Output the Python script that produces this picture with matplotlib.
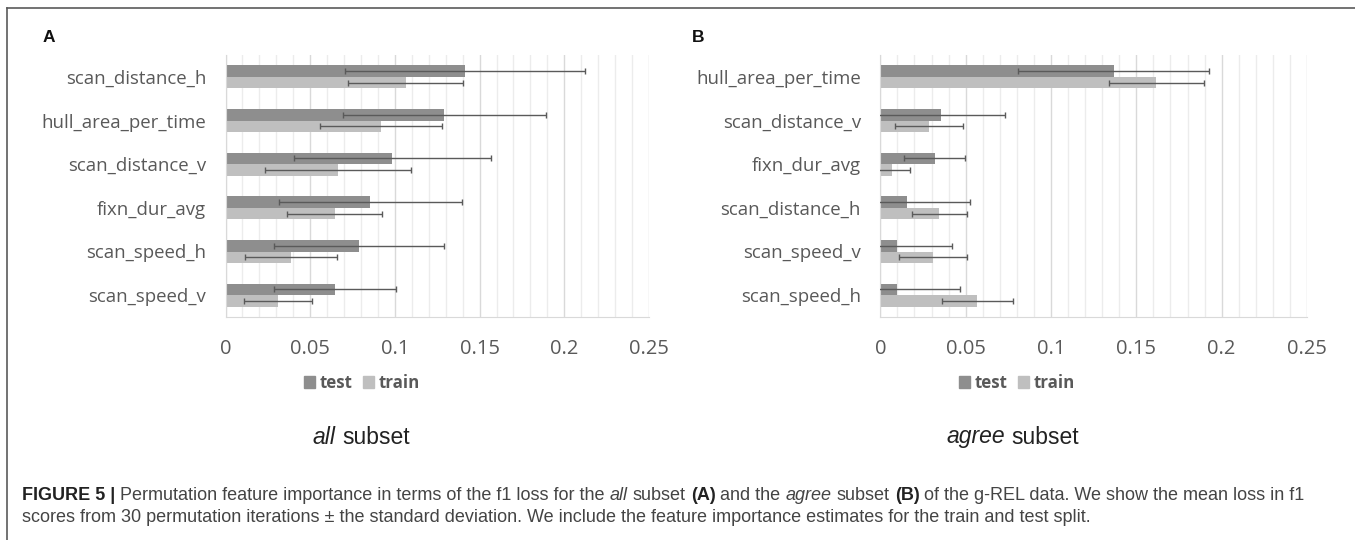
import matplotlib
matplotlib.use("Agg")
import matplotlib.pyplot as plt
from matplotlib.lines import Line2D
from matplotlib.patches import Patch
import numpy as np

# panel A: all subset
feat_a = ["scan_distance_h", "hull_area_per_time", "scan_distance_v",
          "fixn_dur_avg", "scan_speed_h", "scan_speed_v"]
test_a = [0.1415, 0.1292, 0.0985, 0.0855, 0.0788, 0.0645]
test_err_a = [0.071, 0.060, 0.058, 0.054, 0.050, 0.036]
train_a = [0.1064, 0.0916, 0.0665, 0.0645, 0.0386, 0.0312]
train_err_a = [0.034, 0.036, 0.043, 0.028, 0.027, 0.020]

# panel B: agree subset
feat_b = ["hull_area_per_time", "scan_distance_v", "fixn_dur_avg",
          "scan_distance_h", "scan_speed_v", "scan_speed_h"]
test_b = [0.1367, 0.0358, 0.0318, 0.0158, 0.0099, 0.0099]
test_err_b = [0.056, 0.037, 0.018, 0.037, 0.032, 0.037]
train_b = [0.1618, 0.0287, 0.0066, 0.0346, 0.0308, 0.0569]
train_err_b = [0.028, 0.020, 0.011, 0.016, 0.020, 0.021]

xticks = [0, 0.05, 0.1, 0.15, 0.2, 0.25]
xticklabels = ["0", "0.05", "0.1", "0.15", "0.2", "0.25"]

TEST_C = "#8e8e8e"
TRAIN_C = "#bfbfbf"
TXT_C = "#595959"
LABEL_FONT = "Open Sans"
W, H = 1355, 540

fig = plt.figure(figsize=(W / 100, H / 100), dpi=100)


def panel(rect, feats, test, test_err, train, train_err):
    ax = fig.add_axes(rect)
    y = np.arange(len(feats))
    h = 0.26
    ax.barh(y - h / 2, test, height=h, color=TEST_C, zorder=2)
    ax.barh(y + h / 2, train, height=h, color=TRAIN_C, zorder=2)
    ax.errorbar(test, y - h / 2, xerr=test_err, fmt="none", ecolor="#5a5a5a",
                elinewidth=1.0, capsize=2.5, capthick=1.0, zorder=3)
    ax.errorbar(train, y + h / 2, xerr=train_err, fmt="none", ecolor="#5a5a5a",
                elinewidth=1.0, capsize=2.5, capthick=1.0, zorder=3)
    ax.set_xlim(0, 0.25)
    ax.set_ylim(len(feats) - 0.5, -0.5)
    ax.set_yticks(y)
    ax.set_yticklabels(feats, fontfamily=LABEL_FONT, fontsize=13.4, color=TXT_C)
    ax.set_xticks(xticks)
    ax.set_xticklabels(xticklabels, fontfamily=LABEL_FONT, fontsize=14.5, color=TXT_C)
    ax.set_xticks(np.arange(0, 0.2501, 0.01), minor=True)
    ax.tick_params(axis="both", which="both", length=0)
    ax.tick_params(axis="x", pad=16)
    ax.tick_params(axis="y", pad=14)
    ax.grid(axis="x", which="minor", color="#ececec", lw=1.0, zorder=0)
    ax.grid(axis="x", which="major", color="#d9d9d9", lw=1.0, zorder=0)
    for s in ["top", "right"]:
        ax.spines[s].set_visible(False)
    ax.spines["left"].set_color("#d9d9d9")
    ax.spines["bottom"].set_color("#d9d9d9")
    return ax


bot = 1 - 317 / H
top = 1 - 55 / H
panel([225.5 / W, bot, (649 - 225.5) / W, top - bot], feat_a, test_a, test_err_a, train_a, train_err_a)
panel([880.3 / W, bot, (1307 - 880.3) / W, top - bot], feat_b, test_b, test_err_b, train_b, train_err_b)

# panel letters
fig.text(43 / W, 1 - 37 / H, "A", fontsize=12.5, fontweight="bold", family="Liberation Sans",
         va="center", ha="left", color="#111111")
fig.text(692 / W, 1 - 37 / H, "B", fontsize=12.5, fontweight="bold", family="Liberation Sans",
         va="center", ha="left", color="#111111")

# legends
handles = [Patch(color=TEST_C, label="test"), Patch(color=TRAIN_C, label="train")]
for cx in [362, 1017]:
    fig.legend(handles=handles, loc="center", bbox_to_anchor=(cx / W, 1 - 383 / H),
               ncol=2, frameon=False, handlelength=0.65, handleheight=0.65,
               handletextpad=0.3, columnspacing=0.6,
               prop={"family": LABEL_FONT, "weight": "bold", "size": 12.2},
               labelcolor=TXT_C)


def rich(x, y, pieces, size, color="#444444"):
    # draw a line of text made of pieces with different weights / styles
    r = fig.canvas.get_renderer()
    probe = fig.text(0, 0, "a a", fontsize=size, family="Liberation Sans")
    w2 = probe.get_window_extent(r).width
    probe.set_text("aa")
    sp = w2 - probe.get_window_extent(r).width
    probe.remove()
    cur = x
    for txt, weight, style, col in pieces:
        t = fig.text(cur / W, 1 - y / H, txt, fontsize=size, family="Liberation Sans",
                     fontweight=weight, fontstyle=style, color=col or color,
                     va="center", ha="left")
        cur += t.get_window_extent(r).width + sp


def centered(cx, y, pieces, size):
    r = fig.canvas.get_renderer()
    tmp = fig.text(0, 0, " ".join(p[0] for p in pieces), fontsize=size, family="Liberation Sans")
    wd = tmp.get_window_extent(r).width
    tmp.remove()
    rich(cx - wd / 2, y, pieces, size, color="#222222")


# subset labels
centered(361, 437, [("all", "normal", "italic", None), ("subset", "normal", "normal", None)], 16.5)
centered(1013, 437, [("agree", "normal", "italic", None), ("subset", "normal", "normal", None)], 16.5)

# caption
N, B, I = "normal", "bold", "italic"
line1 = [("FIGURE 5 |", B, N, "#222222"),
         ("Permutation feature importance in terms of the f1 loss for the", N, N, None),
         ("all", N, I, None), ("subset", N, N, None), ("(A)", B, N, "#222222"),
         ("and the", N, N, None), ("agree", N, I, None), ("subset", N, N, None),
         ("(B)", B, N, "#222222"),
         ("of the g-REL data. We show the mean loss in f1", N, N, None)]
line2 = [("scores from 30 permutation iterations \u00b1 the standard deviation. We include the "
          "feature importance estimates for the train and test split.", N, N, None)]
rich(22, 495, line1, 13)
rich(22, 517, line2, 13)

# frame
fig.add_artist(Line2D([7 / W, 1], [1 - 8 / H, 1 - 8 / H], color="#5a5a5a", lw=1.2))
fig.add_artist(Line2D([7 / W, 7 / W], [0, 1 - 8 / H], color="#5a5a5a", lw=1.2))

fig.savefig("out.png", dpi=100)
